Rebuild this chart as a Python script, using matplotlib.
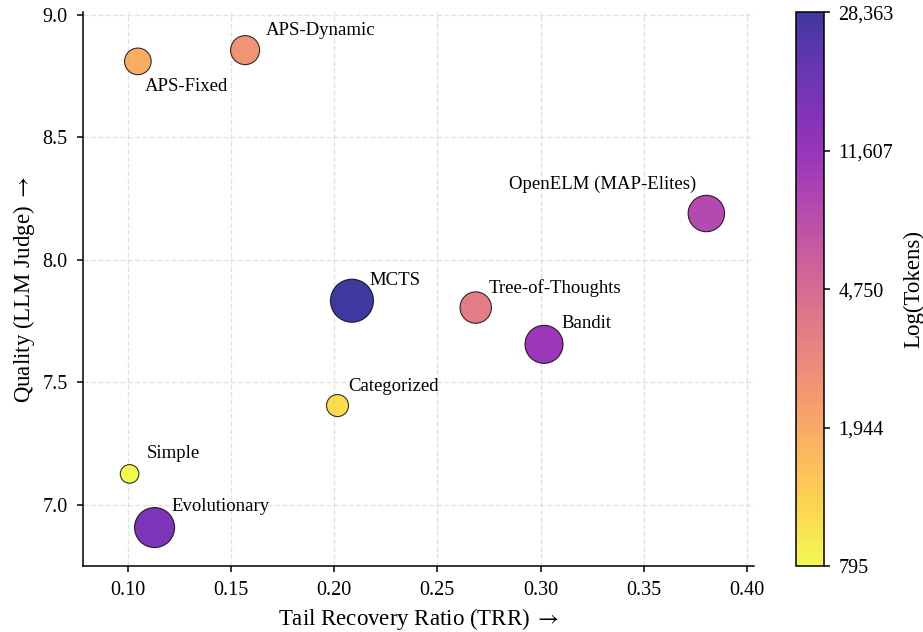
import matplotlib
matplotlib.use("Agg")
import matplotlib.pyplot as plt
import matplotlib.colors as mcolors
import numpy as np

plt.rcParams['font.family'] = ['Liberation Serif', 'DejaVu Serif']
plt.rcParams['mathtext.fontset'] = 'stix'

# data
methods = ["Simple", "Categorized", "APS-Fixed", "APS-Dynamic", "Tree-of-Thoughts",
           "OpenELM (MAP-Elites)", "Bandit", "Evolutionary", "MCTS"]
trr = [0.1008, 0.2016, 0.1048, 0.1568, 0.2686, 0.3804, 0.3017, 0.1129, 0.2086]
quality = [7.126, 7.405, 8.81, 8.856, 7.805, 8.189, 7.655, 6.907, 7.833]
tokens = [795.4, 1104, 1880, 2575, 3630, 8160, 10860, 15760, 28363]

# label offsets in points (dx, dy, ha)
offsets = {
    "Simple": (12.5, 11.5, "left"),
    "Categorized": (8, 10.5, "left"),
    "APS-Fixed": (5, -21, "left"),
    "APS-Dynamic": (15, 11, "left"),
    "Tree-of-Thoughts": (9, 10.5, "left"),
    "OpenELM (MAP-Elites)": (-7.5, 17.5, "right"),
    "Bandit": (12.5, 11.5, "left"),
    "Evolutionary": (12.5, 12, "left"),
    "MCTS": (12.5, 11.5, "left"),
}

tok = np.array(tokens)
norm = mcolors.LogNorm(vmin=tok.min(), vmax=tok.max())
frac = np.log(tok / tok.min()) / np.log(tok.max() / tok.min())
sizes = 180 + 780 * frac

fig = plt.figure(figsize=(9.23, 6.32), dpi=100)
ax = fig.add_axes([0.0899, 0.1044, 0.727, 0.876])
cax = fig.add_axes([0.862, 0.1044, 0.0307, 0.876])

sc = ax.scatter(trr, quality, s=sizes, c=tok, cmap='plasma_r', norm=norm,
                alpha=0.8, edgecolors='black', linewidths=0.8, zorder=3)

for name, x, y in zip(methods, trr, quality):
    dx, dy, ha = offsets[name]
    ax.annotate(name, (x, y), xytext=(dx, dy), textcoords='offset points',
                ha=ha, fontsize=13.5)

ax.set_xlim(0.0782, 0.4035)
ax.set_ylim(6.75, 9.01)
ax.set_xticks([0.10, 0.15, 0.20, 0.25, 0.30, 0.35, 0.40])
ax.set_yticks([7.0, 7.5, 8.0, 8.5, 9.0])
ax.xaxis.set_major_formatter(matplotlib.ticker.FormatStrFormatter('%.2f'))
ax.yaxis.set_major_formatter(matplotlib.ticker.FormatStrFormatter('%.1f'))
ax.tick_params(labelsize=14.5, width=1.1, length=4.5, pad=6.5)
ax.grid(True, linestyle='--', color='#d0d0d0', alpha=0.6, linewidth=1.0)
ax.set_axisbelow(True)
ax.spines['top'].set_visible(False)
ax.spines['right'].set_visible(False)
for sp in ['left', 'bottom']:
    ax.spines[sp].set_linewidth(1.1)

ax.set_xlabel(r"Tail Recovery Ratio (TRR) $\rightarrow$", fontsize=16.5, labelpad=4)
ax.set_ylabel(r"Quality (LLM Judge) $\rightarrow$", fontsize=16.5, labelpad=4)

cbar = fig.colorbar(sc, cax=cax)
cbar.minorticks_off()
cticks = np.geomspace(tok.min(), tok.max(), 5)
cbar.set_ticks(cticks)
cbar.set_ticklabels([f"{t:,.0f}" for t in cticks])
cbar.ax.tick_params(labelsize=14.5, width=1.1, length=4.5, pad=6)
cbar.outline.set_linewidth(1.1)
cbar.set_label("Log(Tokens)", fontsize=16.5, labelpad=7)

fig.savefig("out.png", dpi=100)
